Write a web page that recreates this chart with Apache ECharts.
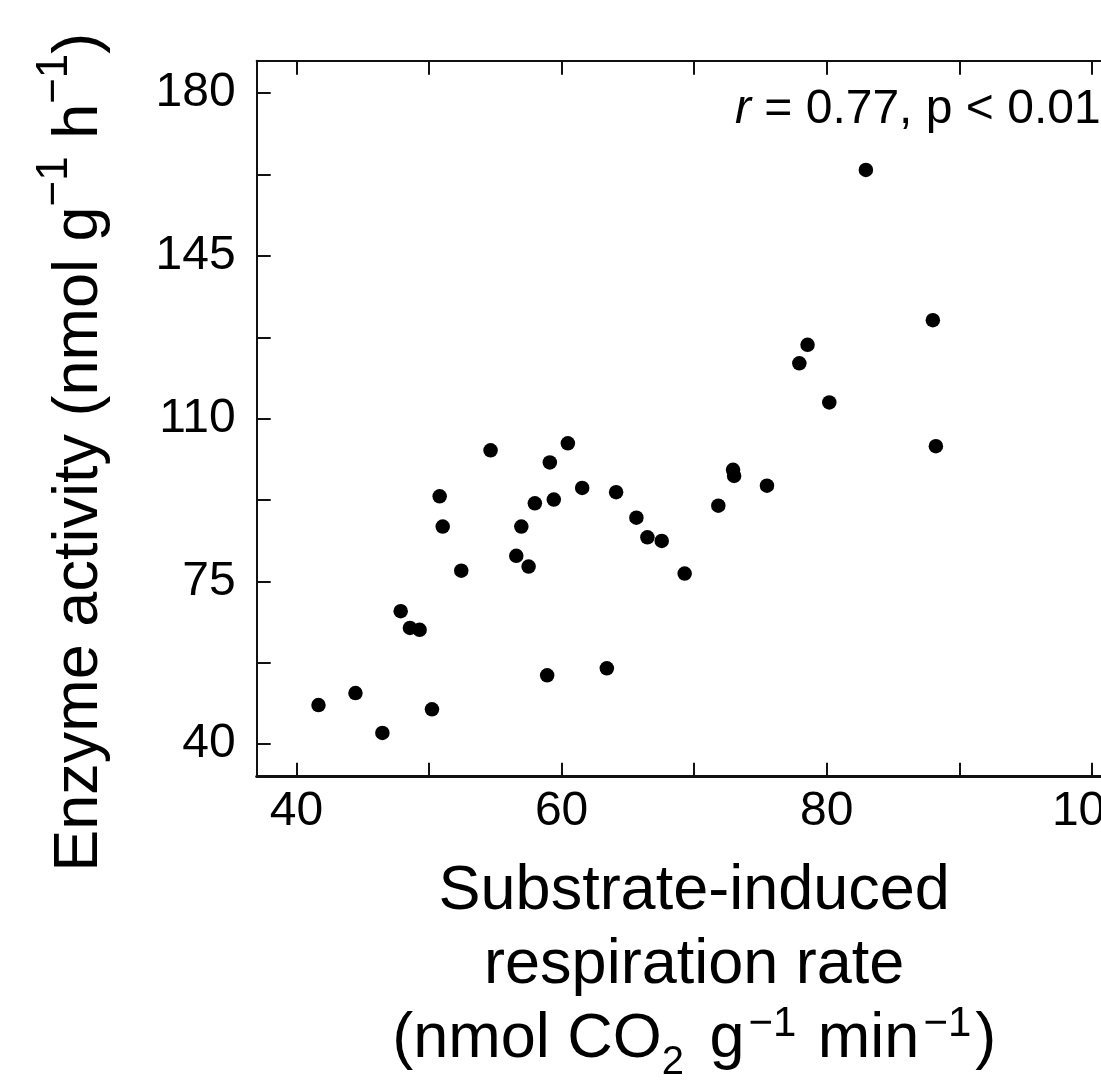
<!DOCTYPE html>
<html>
<head>
<meta charset="utf-8">
<script src="https://cdn.jsdelivr.net/npm/echarts@6/dist/echarts.min.js"></script>
<style>
html,body{margin:0;padding:0;background:#fff;}
#chart{width:1101px;height:1082px;}
</style>
</head>
<body>
<div id="chart"></div>
<script>
// Substrate-induced respiration rate (x) and enzyme activity (y)
const respirationRate = [41.66, 44.45, 46.48, 50.22, 47.86, 48.56, 49.29, 50.80, 51.03, 52.43,
  54.64, 56.58, 56.96, 57.51, 57.98, 58.91, 59.11, 59.41, 60.47, 61.55,
  63.41, 64.11, 65.64, 66.47, 67.55, 69.28, 71.82, 72.93, 73.01, 75.49,
  77.93, 78.55, 80.19, 82.95, 88.00, 88.23];
const enzymeActivity = [48.4, 51.0, 42.4, 47.5, 68.6, 65.0, 64.6, 93.3, 86.8, 77.3,
  103.2, 80.5, 86.8, 78.2, 91.8, 54.8, 100.6, 92.6, 104.7, 95.1,
  56.3, 94.2, 88.7, 84.5, 83.7, 76.7, 91.3, 99.0, 97.7, 95.6,
  121.9, 125.9, 113.5, 163.5, 131.2, 104.1];

const xTickValues = [40, 50, 60, 70, 80, 90, 100];
const xLabelValues = [40, 60, 80, 100];
const yTickValues = [40, 57.5, 75, 92.5, 110, 127.5, 145, 162.5, 180];
const yLabelValues = [40, 75, 110, 145, 180];

const xMin = 37, xMax = 103;
const yMin = 33, yMax = 187;

const annotationText = '{i|r}{n| = 0.77, p < 0.01}';

const FONT = '"Liberation Sans", Arial, Helvetica, sans-serif';
const points = respirationRate.map((x, i) => [x, enzymeActivity[i]]);

const chart = echarts.init(document.getElementById('chart'), null, {renderer: 'canvas'});

function xAxisDef(pos, withLabels) {
  return {
    type: 'value', position: pos, min: xMin, max: xMax,
    axisLine: {show: true, onZero: false, lineStyle: {color: '#111', width: pos === 'bottom' ? 3 : 2}},
    axisTick: {show: true, inside: true, length: 14, lineStyle: {color: '#111', width: 2}, customValues: xTickValues},
    axisLabel: {show: withLabels, customValues: xLabelValues, margin: 11, fontSize: 48, color: '#000', fontFamily: FONT},
    splitLine: {show: false}
  };
}
function yAxisDef(pos, withLabels) {
  return {
    type: 'value', position: pos, min: yMin, max: yMax,
    axisLine: {show: true, onZero: false, lineStyle: {color: '#111', width: 2}},
    axisTick: {show: true, inside: true, length: 14, lineStyle: {color: '#111', width: 2}, customValues: yTickValues},
    axisLabel: {show: withLabels, customValues: yLabelValues, margin: 21, fontSize: 48, color: '#000', fontFamily: FONT},
    splitLine: {show: false}
  };
}

const xMain = xAxisDef('bottom', true);
xMain.name = 'Substrate-induced\nrespiration rate\n(nmol CO{sub|2} g{sup|\u22121} min{sup|\u22121})';
xMain.nameLocation = 'middle';
xMain.nameGap = 78;
xMain.nameTextStyle = {
  fontSize: 63, lineHeight: 74, color: '#000', fontFamily: FONT, align: 'center',
  rich: {
    sup: {fontSize: 42, lineHeight: 74, color: '#000', fontFamily: FONT, padding: [0, 4, 30, 4]},
    sub: {fontSize: 40, lineHeight: 74, color: '#000', fontFamily: FONT, padding: [46, 8, 0, 0]}
  }
};

const yMain = yAxisDef('left', true);
yMain.name = 'Enzyme activity (nmol g{sup|\u22121} h{sup|\u22121})';
yMain.nameLocation = 'middle';
yMain.nameRotate = 90;
yMain.nameGap = 137;
yMain.nameTextStyle = {
  fontSize: 63, lineHeight: 80, color: '#000', fontFamily: FONT, align: 'center',
  padding: [0, 67, 0, 0],
  rich: {
    sup: {fontSize: 44, lineHeight: 80, color: '#000', fontFamily: FONT, padding: [0, 0, 50, 0]}
  }
};

chart.setOption({
  animation: false,
  backgroundColor: '#fff',
  grid: {left: 256.7, top: 60.7, right: -30.7, bottom: 305.3, containLabel: false, outerBoundsMode: 'none'},
  xAxis: [xMain, xAxisDef('top', false)],
  yAxis: [yMain, yAxisDef('right', false)],
  series: [{
    type: 'scatter',
    data: points,
    symbol: 'circle',
    symbolSize: 14.5,
    itemStyle: {color: '#000', opacity: 1},
    emphasis: {disabled: true},
    clip: false
  }],
  graphic: [{
    type: 'text',
    x: 735,
    y: 110,
    style: {
      text: annotationText,
      align: 'left',
      verticalAlign: 'middle',
      fontSize: 48,
      fontFamily: FONT,
      fill: '#000',
      rich: {
        i: {fontSize: 48, fontFamily: FONT, fontStyle: 'italic', fill: '#000'},
        n: {fontSize: 48, fontFamily: FONT, fill: '#000'}
      }
    }
  }]
});
</script>
</body>
</html>
